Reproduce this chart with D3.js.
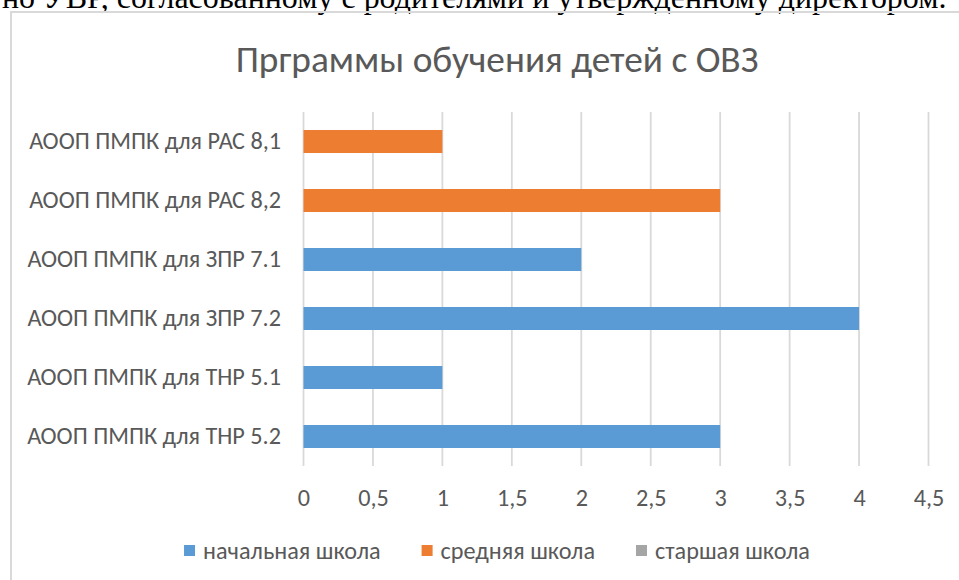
<!DOCTYPE html>
<html>
  <head>
    <meta charset="utf-8">
    <title>Прграммы обучения детей с ОВЗ</title>
    <script src="https://d3js.org/d3.v7.min.js"></script>
    <style type="text/css">
      body {
          margin: 0;
          background: #ffffff;
      }
      text {
          font-family: Carlito, "Open Sans", "Noto Sans", sans-serif;
          fill: #595959;
      }
    </style>
  </head>
  <body>
    <script>
        // Data
        var categories = ["АООП ПМПК для РАС 8,1", "АООП ПМПК для РАС 8,2",
                          "АООП ПМПК для ЗПР 7.1", "АООП ПМПК для ЗПР 7.2",
                          "АООП ПМПК для ТНР 5.1", "АООП ПМПК для ТНР 5.2"];
        var seriesNames = ["начальная школа", "средняя школа", "старшая школа"];
        var primary = [0, 0, 2, 4, 1, 3];
        var middle = [1, 3, 0, 0, 0, 0];
        var senior = [0, 0, 0, 0, 0, 0];
        var xTicks = [0, 0.5, 1, 1.5, 2, 2.5, 3, 3.5, 4, 4.5];
        var seriesColors = ["#5B9BD5", "#ED7D31", "#A5A5A5"];

        var svgWidth = 959;
        var svgHeight = 580;
        var plotLeft = 303.5;
        var plotRight = 928.5;
        var plotTop = 112;
        var plotBottom = 466;
        var chartCenter = 497;

        var svg = d3.select("body")
                    .append("svg")
                    .attr("width", svgWidth)
                    .attr("height", svgHeight);

        // Set font size so a text reaches the wanted width
        function fitWidth(sel, target) {
            var w = sel.node().getComputedTextLength();
            var size = parseFloat(sel.attr("font-size"));
            var newSize = size * target / w;
            sel.attr("font-size", newSize);
            return newSize;
        }

        // Line of document text cut off above the chart
        var docLine = svg.append("text")
           .attr("x", 2)
           .attr("y", 8)
           .attr("font-size", 30)
           .style("font-family", "'Liberation Serif', 'DejaVu Serif', serif")
           .style("fill", "#000000")
           .text("но УВР, согласованному с родителями и утвержденному директором.");
        fitWidth(docLine, 945);

        // Chart frame
        svg.append("rect")
           .attr("x", 11)
           .attr("y", 12)
           .attr("width", 972)
           .attr("height", 620)
           .attr("fill", "none")
           .attr("stroke", "#d9d9d9")
           .attr("stroke-width", 2);

        // Title
        var title = svg.append("text")
           .attr("x", chartCenter)
           .attr("y", 72)
           .attr("text-anchor", "middle")
           .attr("font-size", 34)
           .attr("font-weight", 300)
           .text("Прграммы обучения детей с ОВЗ");
        fitWidth(title, 523);

        var xScale = d3.scaleLinear()
                       .domain([0, 4.5])
                       .range([plotLeft, plotRight]);

        var yScale = d3.scaleBand()
                       .domain(categories)
                       .range([plotTop, plotBottom])
                       .paddingInner(0.61)
                       .paddingOuter(0.305);

        // Gridlines
        svg.append("g")
           .selectAll("line")
           .data(xTicks)
           .enter()
           .append("line")
           .attr("x1", function(d) { return xScale(d); })
           .attr("x2", function(d) { return xScale(d); })
           .attr("y1", plotTop)
           .attr("y2", plotBottom)
           .attr("stroke", "#d9d9d9")
           .attr("stroke-width", 1.8);

        // Bars, one group per series
        var allSeries = [primary, middle, senior];
        allSeries.forEach(function(values, i) {
            svg.append("g")
               .selectAll("rect")
               .data(values)
               .enter()
               .append("rect")
               .attr("x", xScale(0))
               .attr("y", function(d, j) { return yScale(categories[j]); })
               .attr("width", function(d) { return xScale(d) - xScale(0); })
               .attr("height", yScale.bandwidth())
               .attr("fill", seriesColors[i]);
        });

        // Category labels
        var yAxis = d3.axisLeft(yScale).tickSize(0).tickPadding(0);
        var yAxisG = svg.append("g")
           .attr("transform", "translate(281,0)")
           .call(yAxis);
        yAxisG.select(".domain").remove();
        yAxisG.selectAll("text")
              .attr("font-size", 21)
              .attr("font-family", null)
              .attr("fill", null);
        var labelSize = fitWidth(yAxisG.select("text"), 252);
        yAxisG.selectAll("text").attr("font-size", labelSize);

        // Value labels under the plot
        var xAxis = d3.axisBottom(xScale)
                      .tickValues(xTicks)
                      .tickSize(0)
                      .tickPadding(0)
                      .tickFormat(function(d) { return String(d).replace(".", ","); });
        var xAxisG = svg.append("g")
           .attr("transform", "translate(0,498)")
           .call(xAxis);
        xAxisG.select(".domain").remove();
        xAxisG.selectAll("text")
              .attr("font-size", labelSize)
              .attr("font-family", null)
              .attr("fill", null)
              .attr("dy", "0.35em");

        // Legend
        var legend = svg.append("g");
        var cursor = 0;
        seriesNames.forEach(function(name, i) {
            var item = legend.append("g").attr("transform", "translate(" + cursor + ",0)");
            item.append("rect")
                .attr("x", 0)
                .attr("y", -6)
                .attr("width", 11)
                .attr("height", 11)
                .attr("fill", seriesColors[i]);
            var t = item.append("text")
                .attr("x", 19)
                .attr("y", 0)
                .attr("dy", "0.35em")
                .attr("font-size", labelSize)
                .text(name);
            cursor += 19 + t.node().getComputedTextLength() + 41;
        });
        var legendWidth = cursor - 41;
        legend.attr("transform", "translate(" + (chartCenter - legendWidth / 2) + ",551)");

    </script>
  </body>
</html>
